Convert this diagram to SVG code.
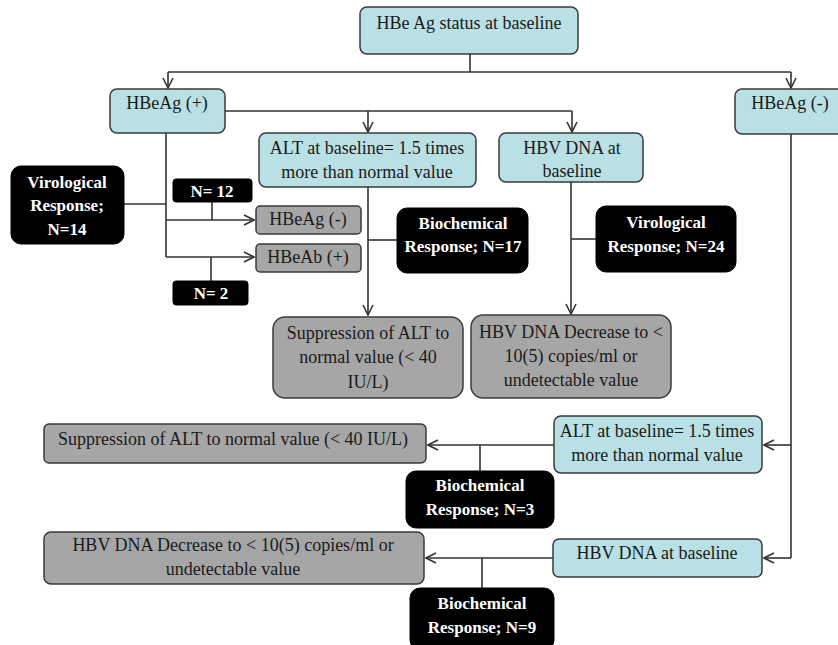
<svg xmlns="http://www.w3.org/2000/svg" width="838" height="645" viewBox="0 0 838 645" font-family="'Liberation Serif', 'Times New Roman', Times, serif">
<style>
.b{fill:#b9e0e4;stroke:#3a3a3a;stroke-width:1.5}
.g{fill:#a6a6a6;stroke:#3a3a3a;stroke-width:1.5}
.k{fill:#000;stroke:#000;stroke-width:1}
text{font-family:'Liberation Serif','Times New Roman',Times,serif;font-size:18px;text-anchor:middle;fill:#1a1a1a}
.w{fill:#fff;font-weight:bold;font-size:17px}
.c{fill:none;stroke:#333;stroke-width:1.6}
</style>
<defs>
<marker id="ar" viewBox="0 0 12 12" refX="11" refY="6" markerWidth="12" markerHeight="12" markerUnits="userSpaceOnUse" orient="auto">
<path d="M1,1 L11,6 L1,11" fill="none" stroke="#333" stroke-width="1.6"/>
</marker>
</defs>
<g id="connectors">
<path class="c" d="M470,54 V72"/>
<path class="c" d="M168,72 H791"/>
<path class="c" d="M168,72 V88" marker-end="url(#ar)"/>
<path class="c" d="M791,72 V88" marker-end="url(#ar)"/>
<path class="c" d="M225,111 H572"/>
<path class="c" d="M368,111 V132" marker-end="url(#ar)"/>
<path class="c" d="M572,111 V132" marker-end="url(#ar)"/>
<path class="c" d="M166,133 V257"/>
<path class="c" d="M124,204 H166"/>
<path class="c" d="M166,220 H254" marker-end="url(#ar)"/>
<path class="c" d="M166,257 H254" marker-end="url(#ar)"/>
<path class="c" d="M212,202 V220"/>
<path class="c" d="M211,257 V281"/>
<path class="c" d="M368,187 V315" marker-end="url(#ar)"/>
<path class="c" d="M368,240 H397"/>
<path class="c" d="M571,182 V314" marker-end="url(#ar)"/>
<path class="c" d="M571,239 H596"/>
<path class="c" d="M791,134 V558"/>
<path class="c" d="M791,445 H764" marker-end="url(#ar)"/>
<path class="c" d="M791,558 H764" marker-end="url(#ar)"/>
<path class="c" d="M554,445 H428" marker-end="url(#ar)"/>
<path class="c" d="M480,445 V471"/>
<path class="c" d="M553,558 H426" marker-end="url(#ar)"/>
<path class="c" d="M482,558 V588"/>
</g>
<g id="n_top"><rect class="b" x="360" y="7" width="218" height="47" rx="7"/><text x="469" y="29">HBe Ag status at baseline</text></g>
<g id="n_pos"><rect class="b" x="110" y="89" width="115" height="44" rx="7"/><text x="167" y="109">HBeAg (+)</text></g>
<g id="n_neg"><rect class="b" x="735" y="89" width="110" height="45" rx="7"/><text x="790" y="109">HBeAg (-)</text></g>
<g id="n_alt1"><rect class="b" x="259" y="133" width="217" height="54" rx="7"/><text x="367" y="154">ALT at baseline= 1.5 times</text><text x="367" y="178">more than normal value</text></g>
<g id="n_dna1"><rect class="b" x="499" y="133" width="144" height="49" rx="7"/><text x="572" y="154">HBV DNA at</text><text x="572" y="177">baseline</text></g>
<g id="n_vir14"><rect class="k" x="11" y="166" width="113" height="78" rx="10"/><text class="w" x="67" y="188">Virological</text><text class="w" x="67" y="211">Response;</text><text class="w" x="67" y="235">N=14</text></g>
<g id="n_n12"><rect class="k" x="173" y="179" width="79" height="23" rx="3"/><text class="w" x="212" y="197">N= 12</text></g>
<g id="n_hbeagneg"><rect class="g" x="256" y="206" width="105" height="28" rx="4"/><text x="308" y="225">HBeAg (-)</text></g>
<g id="n_hbeab"><rect class="g" x="256" y="244" width="105" height="28" rx="4"/><text x="308" y="263">HBeAb (+)</text></g>
<g id="n_n2"><rect class="k" x="173" y="281" width="75" height="24" rx="3"/><text class="w" x="211" y="299">N= 2</text></g>
<g id="n_bio17"><rect class="k" x="397" y="208" width="131" height="65" rx="10"/><text class="w" x="463" y="229">Biochemical</text><text class="w" x="463" y="252">Response; N=17</text></g>
<g id="n_vir24"><rect class="k" x="596" y="206" width="140" height="66" rx="10"/><text class="w" x="666" y="228">Virological</text><text class="w" x="666" y="252">Response; N=24</text></g>
<g id="n_sup1"><rect class="g" x="273" y="317" width="190" height="81" rx="12"/><text x="368" y="339">Suppression of ALT to</text><text x="368" y="363">normal value (&lt; 40</text><text x="368" y="388">IU/L)</text></g>
<g id="n_dec1"><rect class="g" x="471" y="315" width="200" height="83" rx="12"/><text x="571" y="338">HBV DNA Decrease to &lt;</text><text x="571" y="362">10(5) copies/ml or</text><text x="571" y="386">undetectable value</text></g>
<g id="n_alt2"><rect class="b" x="554" y="416" width="208" height="57" rx="7"/><text x="657" y="437">ALT at baseline= 1.5 times</text><text x="657" y="461">more than normal value</text></g>
<g id="n_sup2"><rect class="g" x="44" y="424" width="382" height="39" rx="5"/><text x="233" y="445">Suppression of ALT to normal value (&lt; 40 IU/L)</text></g>
<g id="n_bio3"><rect class="k" x="406" y="471" width="148" height="57" rx="10"/><text class="w" x="480" y="491">Biochemical</text><text class="w" x="480" y="515">Response; N=3</text></g>
<g id="n_dna2"><rect class="b" x="553" y="539" width="209" height="38" rx="6"/><text x="657" y="559">HBV DNA at baseline</text></g>
<g id="n_dec2"><rect class="g" x="44" y="532" width="380" height="52" rx="7"/><text x="233" y="551">HBV DNA Decrease to &lt; 10(5) copies/ml or</text><text x="233" y="575">undetectable value</text></g>
<g id="n_bio9"><rect class="k" x="410" y="588" width="144" height="62" rx="10"/><text class="w" x="482" y="609">Biochemical</text><text class="w" x="482" y="633">Response; N=9</text></g>
</svg>
